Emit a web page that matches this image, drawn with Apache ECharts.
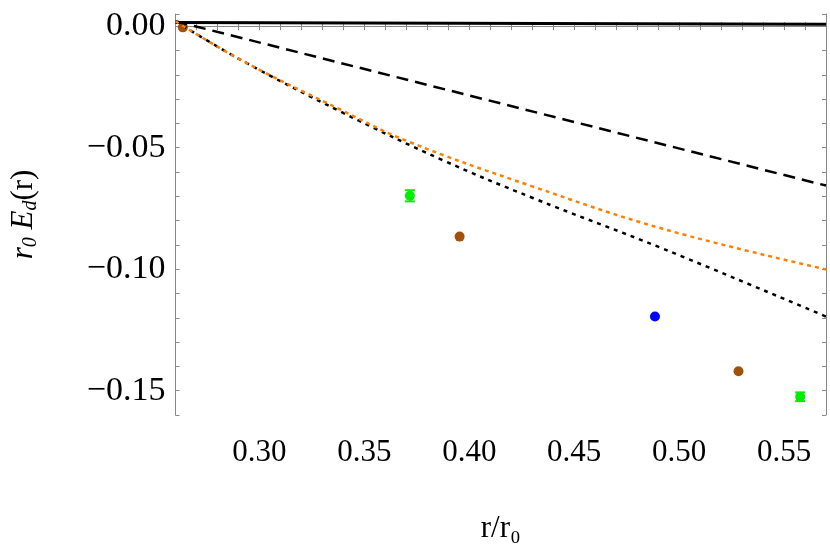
<!DOCTYPE html>
<html><head><meta charset="utf-8">
<script src="https://cdn.jsdelivr.net/npm/echarts@6/dist/echarts.min.js"></script>
<style>html,body{margin:0;padding:0;background:#fff}#c{width:830px;height:549px}</style>
</head><body><div id="c"></div>
<script>
const solidX = [0.26, 0.57];
const solidY = [0.0015, 0.0008];
const dashedX = [0.26, 0.57];
const dashedY = [0.002, -0.0656];
const dottedX = [0.26, 0.292, 0.339, 0.387, 0.43, 0.4927, 0.57];
const dottedY = [0.002, -0.0143, -0.0353, -0.055, -0.0706, -0.0917, -0.1195];
const orangeX = [0.26, 0.292, 0.339, 0.371, 0.43, 0.4927, 0.57];
const orangeY = [0.002, -0.0143, -0.0345, -0.0475, -0.0659, -0.0835, -0.1001];
const brownX = [0.2635, 0.3954, 0.5283];
const brownY = [-0.0005, -0.0866, -0.142];
const blueX = [0.4885];
const blueY = [-0.1195];
const greenX = [0.3717, 0.5577];
const greenY = [-0.0698, -0.1525];
const greenErr = [0.0023, 0.0018];
const xTicks = [0.30, 0.35, 0.40, 0.45, 0.50, 0.55];

const zip = (a, b) => a.map((v, i) => [v, b[i]]);
const fmt = v => (v < 0 ? '\u2212' : '') + Math.abs(v).toFixed(2);
const font = 'Liberation Serif';
const chart = echarts.init(document.getElementById('c'));
const line = {show: true, lineStyle: {color: '#888'}};
const tick = {inside: true, length: 4, lineStyle: {color: '#888'}};
chart.setOption({
  animation: false,
  grid: {left: 173, right: 4, top: 14, bottom: 130},
  xAxis: [{
    type: 'value', min: 0.26, max: 0.57, interval: 0.01, position: 'bottom',
    axisLine: line, axisTick: tick, splitLine: {show: false},
    axisLabel: {fontFamily: font, fontSize: 31, color: '#000', margin: 22,
      formatter: v => xTicks.some(t => Math.abs(t - v) < 1e-6) ? v.toFixed(2) : ''},
    name: 'r/r\u2080', nameLocation: 'middle', nameGap: 98,
    nameTextStyle: {fontFamily: font, fontSize: 31, color: '#000'}
  }, {
    type: 'value', min: 0.26, max: 0.57, interval: 0.01, position: 'top',
    axisLine: line, axisTick: tick, axisLabel: {show: false}, splitLine: {show: false}
  }],
  yAxis: [{
    type: 'value', min: -0.16, max: 0.005, interval: 0.01, position: 'left',
    axisLine: line, axisTick: tick, splitLine: {show: false},
    axisLabel: {fontFamily: font, fontSize: 34, color: '#000', margin: 10,
      formatter: v => { const r = Math.round(v * 100); return (r % 5 === 0) ? fmt(r / 100) : ''; }},
    name: '{i|r}{s|0}{i| E}{s|d}{n|(r)}', nameLocation: 'middle', nameGap: 135, nameRotate: 90,
    nameTextStyle: {rich: {
      i: {fontFamily: font, fontSize: 31, fontStyle: 'italic', color: '#000'},
      s: {fontFamily: font, fontSize: 20, fontStyle: 'italic', color: '#000', verticalAlign: 'bottom', padding: [14, 0, 0, 0]},
      n: {fontFamily: font, fontSize: 31, color: '#000'}
    }}
  }, {
    type: 'value', min: -0.16, max: 0.005, interval: 0.01, position: 'right',
    axisLine: line, axisTick: tick, axisLabel: {show: false}, splitLine: {show: false}
  }],
  series: [
    {type: 'line', data: zip(solidX, solidY), showSymbol: false, lineStyle: {color: '#000', width: 3}},
    {type: 'line', data: zip(dashedX, dashedY), showSymbol: false, lineStyle: {color: '#000', width: 2.5, type: [12, 7]}},
    {type: 'line', data: zip(dottedX, dottedY), showSymbol: false, smooth: 0.4, lineStyle: {color: '#000', width: 2.5, type: [4, 5]}},
    {type: 'line', data: zip(orangeX, orangeY), showSymbol: false, smooth: 0.4, lineStyle: {color: '#ff8000', width: 2.5, type: [4, 4]}},
    {type: 'scatter', data: zip(brownX, brownY), symbolSize: 10, itemStyle: {color: '#a0520a', opacity: 1}},
    {type: 'scatter', data: zip(blueX, blueY), symbolSize: 10, itemStyle: {color: '#0000ff', opacity: 1}},
    {type: 'scatter', data: zip(greenX, greenY), symbolSize: 10, itemStyle: {color: '#00ee00', opacity: 1}},
    {type: 'custom', data: greenX.map((x, i) => [x, greenY[i], greenErr[i]]),
      renderItem: (params, api) => {
        const x = api.value(0), y = api.value(1), e = api.value(2);
        const top = api.coord([x, y + e]), bot = api.coord([x, y - e]);
        const st = {stroke: '#00ee00', lineWidth: 2};
        return {type: 'group', children: [
          {type: 'line', shape: {x1: top[0], y1: top[1], x2: bot[0], y2: bot[1]}, style: st},
          {type: 'line', shape: {x1: top[0] - 5, y1: top[1], x2: top[0] + 5, y2: top[1]}, style: st},
          {type: 'line', shape: {x1: bot[0] - 5, y1: bot[1], x2: bot[0] + 5, y2: bot[1]}, style: st}
        ]};
      }}
  ]
});
</script></body></html>
